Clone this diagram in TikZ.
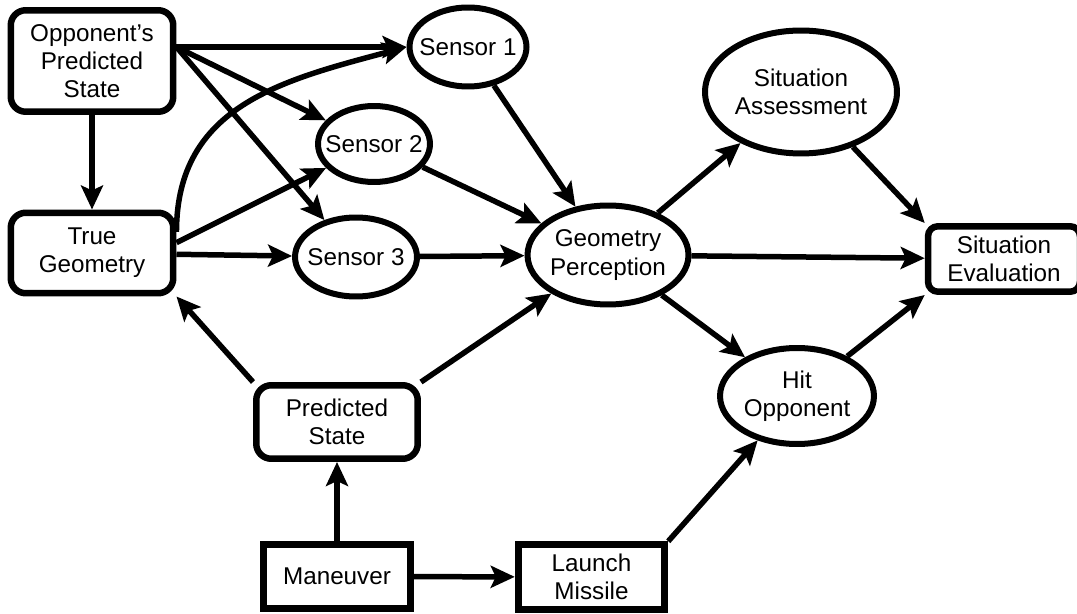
\documentclass[tikz,border=0pt]{standalone}
\usepackage{fontspec}
\setmainfont{Liberation Sans}
\usetikzlibrary{arrows.meta,shapes.geometric}

\begin{document}
\begin{tikzpicture}[x=0.02cm, y=0.02cm,
    font=\fontsize{13.8pt}{16pt}\selectfont,
    line width=0.11cm, >={Stealth[length=0.48cm,width=0.44cm,inset=0.1cm]},
    chance/.style={ellipse, draw, line width=0.12cm, inner xsep=-0.2cm, inner ysep=0pt, align=center},
    rstate/.style={rectangle, rounded corners=0.3cm, draw, line width=0.13cm, align=center},
    decision/.style={rectangle, draw, line width=0.14cm, align=center},
    utility/.style={rectangle, rounded corners=0.2cm, draw, line width=0.13cm, align=center}] % {{{
\useasboundingbox (0,0) rectangle (1077,-614);
% Boxes {{{
\node[rstate, minimum width=3.25cm, minimum height=2.03cm] (ops) at (92,-61) {Opponent’s\\Predicted\\State};
\node[rstate, minimum width=3.25cm, minimum height=1.61cm] (tg) at (92,-253) {True\\Geometry};
\node[rstate, minimum width=3.23cm, minimum height=1.47cm] (ps) at (337,-422) {Predicted\\State};
\node[decision, minimum width=2.95cm, minimum height=1.29cm] (man) at (337,-576.5) {Maneuver};
\node[decision, minimum width=2.93cm, minimum height=1.29cm] (lm) at (591.5,-577) {Launch\\Missile};
\node[utility, minimum width=3.04cm, minimum height=1.31cm] (se) at (1004,-259) {Situation\\Evaluation};
% }}}
% Ellipses {{{
\node[chance, minimum width=2.34cm, minimum height=1.58cm] (s1) at (468,-47) {Sensor 1};
\node[chance, minimum width=2.24cm, minimum height=1.52cm] (s2) at (374,-144) {Sensor 2};
\node[chance, minimum width=2.44cm, minimum height=1.58cm] (s3) at (356,-257) {Sensor 3};
\node[chance, minimum width=3.22cm, minimum height=1.98cm] (gp) at (608,-255) {Geometry\\Perception};
\node[chance, minimum width=3.84cm, minimum height=2.46cm] (sa) at (801,-92) {Situation\\Assessment};
\node[chance, minimum width=3.08cm, minimum height=1.92cm] (ho) at (797,-396) {Hit\\Opponent};
% }}}
% Arcs {{{
\draw[->] (ops.east |- s1.west) -- (s1.west);
\draw[->] (ops.east |- s1.west) -- (s2);
\draw[->] (ops.east |- s1.west) -- (s3);
\draw[->] (tg.14) to[out=90, in=195, looseness=1.1] (s1.west);
\draw[->] (tg.7) -- (s2);
\foreach \from/\to in {ops/tg, tg/s3, s1/gp, s2/gp, s3/gp, man/ps, man/lm, gp/sa, gp/se, gp/ho} {
  \draw[->] (\from) -- (\to);
}
\draw[->] (ps.north west) -- (tg.south east);
\draw[->] (ps.north east) -- (gp);
\draw[->] (lm.north east) -- (ho);
\draw[->] (sa) -- (se.north west);
\draw[->] (ho) -- (se.south west);
% }}}
\end{tikzpicture}
\end{document}
